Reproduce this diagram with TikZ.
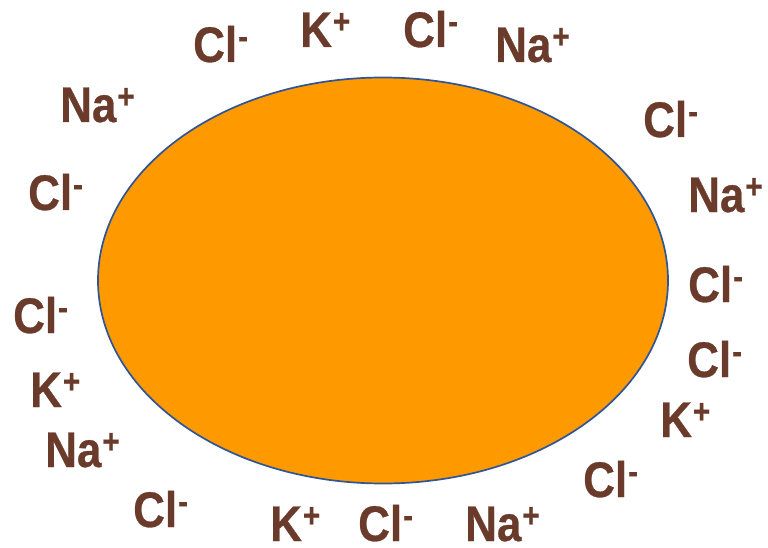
\documentclass[tikz,border=0pt]{standalone}
\usepackage{fontspec}
\setmainfont{Liberation Sans}[BoldFeatures={FakeBold=0.6}]
\usepackage{graphicx}
\usepackage{xcolor}
\definecolor{ionbrown}{HTML}{6A3A2B}
\definecolor{cellorange}{HTML}{FF9900}
\definecolor{cellblue}{HTML}{2F5597}
% one ion label: element and raised charge
\newcommand{\ionlbl}[2]{\scalebox{0.88}[1]{#1\kern1pt\raisebox{0.28em}{\fontsize{34}{34}\selectfont #2}}}

\begin{document}
\begin{tikzpicture}[x=1pt,y=1pt,
  ion/.style={anchor=base west,inner sep=0pt,text=ionbrown,
    font=\fontsize{50}{50}\selectfont\bfseries}]
\useasboundingbox (0,0) rectangle (768,-548);
% Cell
\draw[cellblue,fill=cellorange,line width=1.7pt] (383,-280.5)
  ellipse [x radius=285,y radius=203];
% Ions, top row
\node[ion] (cla) at (193,-62)  {\ionlbl{Cl}{-}};
\node[ion] (ka)  at (300,-47)  {\ionlbl{K}{+}};
\node[ion] (clb) at (403,-47)  {\ionlbl{Cl}{-}};
\node[ion] (naa) at (495,-62)  {\ionlbl{Na}{+}};
% Left side
\node[ion] (nab) at (60,-122)  {\ionlbl{Na}{+}};
\node[ion] (clc) at (28,-210)  {\ionlbl{Cl}{-}};
\node[ion] (cld) at (13,-333)  {\ionlbl{Cl}{-}};
\node[ion] (kb)  at (30,-407)  {\ionlbl{K}{+}};
\node[ion] (nac) at (45,-467)  {\ionlbl{Na}{+}};
\node[ion] (cle) at (133,-527) {\ionlbl{Cl}{-}};
% Right side
\node[ion] (clf) at (643,-137) {\ionlbl{Cl}{-}};
\node[ion] (nad) at (688,-212) {\ionlbl{Na}{+}};
\node[ion] (clg) at (688,-302) {\ionlbl{Cl}{-}};
\node[ion] (clh) at (687,-377) {\ionlbl{Cl}{-}};
\node[ion] (kc)  at (660,-437) {\ionlbl{K}{+}};
\node[ion] (cli) at (583,-497) {\ionlbl{Cl}{-}};
% Bottom row
\node[ion] (kd)  at (270,-541) {\ionlbl{K}{+}};
\node[ion] (clj) at (358,-541) {\ionlbl{Cl}{-}};
\node[ion] (nae) at (465,-541) {\ionlbl{Na}{+}};
\end{tikzpicture}
\end{document}
